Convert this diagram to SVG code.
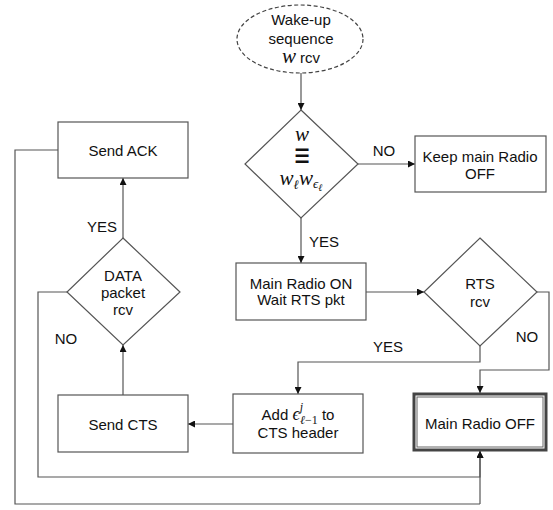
<svg xmlns="http://www.w3.org/2000/svg" width="553" height="510" viewBox="0 0 553 510">
<defs>
<marker id="ah" viewBox="0 0 8 8" refX="8" refY="4" markerWidth="7" markerHeight="7" markerUnits="userSpaceOnUse" orient="auto">
<path d="M0,0 L8,4 L0,8 z" fill="#111"/>
</marker>
<style>
.box{fill:#fff;stroke:#555;stroke-width:1.2}
.t{font-family:"Liberation Sans",Arial,sans-serif;font-size:15px;fill:#111;text-anchor:middle}
.m{font-family:"Liberation Serif","Times New Roman",serif;font-style:italic;fill:#111;text-anchor:middle}
.c{fill:none;stroke:#555;stroke-width:1.2}
.ca{fill:none;stroke:#555;stroke-width:1.2;marker-end:url(#ah)}
</style>
</defs>
<rect width="553" height="510" fill="#fff"/>

<g id="connectors">
<path class="ca" d="M301,73 V110"/>
<path class="ca" d="M358,164 H415"/>
<path class="ca" d="M301,218 V263"/>
<path class="ca" d="M366,292 H424"/>
<path class="ca" d="M480,346 V362 H298 V394"/>
<path class="ca" d="M537,292 H549 V370 H480 V393"/>
<path class="ca" d="M233,424 H188"/>
<path class="ca" d="M123,395 V345"/>
<path class="ca" d="M123,238 V178"/>
<path class="c" d="M58,150 H15 V504 H480"/>
<path class="ca" d="M67,292 H38 V477 H480 V451"/>
<path class="ca" d="M480,504 V451"/>
<text class="t" x="384" y="156">NO</text>
<text class="t" x="324" y="247">YES</text>
<text class="t" x="388" y="352">YES</text>
<text class="t" x="527" y="342">NO</text>
<text class="t" x="102" y="232">YES</text>
<text class="t" x="66" y="344">NO</text>
</g>

<g id="wakeup">
<ellipse cx="300" cy="39" rx="63" ry="34" fill="#fff" stroke="#444" stroke-width="1.2" stroke-dasharray="4,2.5"/>
<text class="t" x="301" y="25">Wake-up</text>
<text class="t" x="301" y="44">sequence</text>
<text class="t" x="301" y="63"><tspan class="m" font-size="21">w</tspan> rcv</text>
</g>

<g id="match">
<polygon class="box" points="301,110 358,164 301,218 245,164"/>
<text class="m" x="302" y="141" font-size="21">w</text>
<text transform="translate(302,157) scale(1.15,1.8)" x="0" y="5" font-family="DejaVu Serif,serif" font-size="18" fill="#111" text-anchor="middle">≡</text>
<text class="m" x="301" y="185" font-size="21">w<tspan font-size="13" dy="4">ℓ</tspan><tspan dy="-4">w</tspan><tspan font-size="13" dy="3">ϵ</tspan><tspan font-size="10" dy="3">ℓ</tspan></text>
</g>

<g id="keep">
<rect class="box" x="415" y="136" width="131" height="56"/>
<text class="t" x="480" y="162">Keep main Radio</text>
<text class="t" x="480" y="179">OFF</text>
</g>

<g id="radioon">
<rect class="box" x="236" y="263" width="130" height="57"/>
<text class="t" x="301" y="289">Main Radio ON</text>
<text class="t" x="301" y="305">Wait RTS pkt</text>
</g>

<g id="rts">
<polygon class="box" points="480,238 537,292 480,346 424,292"/>
<text class="t" x="480" y="289">RTS</text>
<text class="t" x="480" y="307">rcv</text>
</g>

<g id="add">
<rect class="box" x="233" y="394" width="130" height="59"/>
<text class="t" x="298" y="420">Add <tspan class="m" font-size="18">ϵ</tspan><tspan class="m" font-size="12" dy="-9">j</tspan><tspan class="m" font-size="12" dx="-3" dy="13">ℓ</tspan><tspan font-family="Liberation Serif,serif" font-size="12">−1</tspan><tspan dy="-4"> to</tspan></text>
<text class="t" x="298" y="438">CTS header</text>
</g>

<g id="radiooff">
<rect x="414" y="394" width="132" height="56" fill="#fff" stroke="#444" stroke-width="3"/>
<rect x="417" y="397" width="126" height="50" fill="none" stroke="#666" stroke-width="1"/>
<text class="t" x="480" y="429">Main Radio OFF</text>
</g>

<g id="sendcts">
<rect class="box" x="58" y="395" width="130" height="57"/>
<text class="t" x="123" y="430">Send CTS</text>
</g>

<g id="data">
<polygon class="box" points="123,238 180,292 123,345 67,292"/>
<text class="t" x="123" y="281">DATA</text>
<text class="t" x="123" y="298">packet</text>
<text class="t" x="123" y="315">rcv</text>
</g>

<g id="sendack">
<rect class="box" x="58" y="122" width="130" height="56"/>
<text class="t" x="123" y="156">Send ACK</text>
</g>
</svg>
